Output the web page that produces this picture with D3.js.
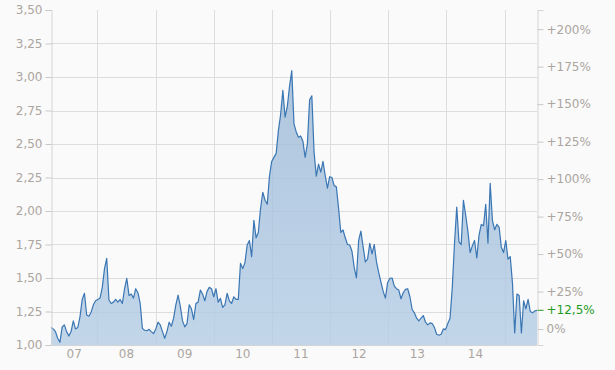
<!DOCTYPE html>
<html>
<head>
<meta charset="utf-8">
<script src="https://cdn.jsdelivr.net/npm/d3@7"></script>
<style>
  html, body { margin: 0; padding: 0; background: #fafafa; }
  svg { display: block; font-family: "DejaVu Sans", Verdana, sans-serif; }
</style>
</head>
<body>
<svg id="chart" width="615" height="370"></svg>
<script>
// price series, one value every 14 days starting mid March 2007
var startDate = new Date(2007, 2, 16),
    stepDays = 14,
    basePrice = 1.119

var prices = [1.13,1.12,1.10,1.05,1.02,1.134,1.15,1.10,1.067,1.10,
 1.18,1.12,1.13,1.21,1.34,1.386,1.224,1.215,1.245,1.30,
 1.33,1.34,1.35,1.43,1.57,1.647,1.336,1.31,1.32,1.34,
 1.32,1.34,1.31,1.42,1.498,1.37,1.38,1.35,1.42,1.39,
 1.31,1.124,1.11,1.107,1.117,1.10,1.085,1.12,1.17,1.15,
 1.10,1.05,1.10,1.17,1.14,1.20,1.30,1.373,1.29,1.18,
 1.135,1.16,1.30,1.27,1.19,1.31,1.32,1.41,1.38,1.33,
 1.40,1.43,1.42,1.36,1.42,1.32,1.348,1.28,1.30,1.386,
 1.33,1.31,1.36,1.34,1.34,1.61,1.57,1.615,1.746,1.78,
 1.66,1.93,1.80,1.84,2.02,2.14,2.08,2.05,2.26,2.37,
 2.40,2.43,2.60,2.72,2.90,2.70,2.78,2.93,3.047,2.65,
 2.59,2.55,2.56,2.52,2.40,2.50,2.83,2.86,2.44,2.26,
 2.35,2.29,2.37,2.265,2.17,2.256,2.25,2.19,2.18,2.02,
 1.84,1.858,1.80,1.75,1.746,1.70,1.58,1.50,1.78,1.85,
 1.734,1.62,1.64,1.759,1.68,1.75,1.62,1.54,1.47,1.40,
 1.35,1.465,1.498,1.50,1.44,1.42,1.41,1.345,1.39,1.415,
 1.42,1.36,1.265,1.24,1.20,1.18,1.20,1.22,1.17,1.15,
 1.165,1.16,1.13,1.08,1.073,1.08,1.12,1.115,1.16,1.20,
 1.43,1.76,2.03,1.77,1.75,2.08,1.97,1.85,1.69,1.74,
 1.78,1.65,1.82,1.90,1.89,2.05,1.76,2.207,1.93,1.86,
 1.90,1.88,1.73,1.69,1.78,1.64,1.66,1.46,1.09,1.38,
 1.37,1.09,1.33,1.27,1.34,1.25,1.24,1.255,1.259]

var priceTicks = [1.00,1.25,1.50,1.75,2.00,2.25,2.50,2.75,3.00,3.25,3.50]
var pctTicks = [0,25,50,75,100,125,150,175,200]

var margin = { top: 10, right: 78, bottom: 25, left: 51 },
    width = 615 - margin.left - margin.right,
    height = 370 - margin.top - margin.bottom

var deLocale = d3.formatLocale({ decimal: ",", thousands: ".", grouping: [3], currency: ["", "€"] })
var fmtPrice = deLocale.format(".2f")
var fmtPct = function(p) { return (p > 0 ? "+" : "") + deLocale.format(",.3~r")(p) + "%" }

var data = prices.map(function(v, i) {
    return { date: d3.timeDay.offset(startDate, i * stepDays), value: v }
})

var x = d3.scaleTime()
    .domain(d3.extent(data, d => d.date))
    .range([0, width])
var y = d3.scaleLinear()
    .domain([1, 3.5])
    .range([height, 0])

var svg = d3.select('#chart')
var g = svg.append('g')
    .attr('transform', 'translate(' + margin.left + ',' + margin.top + ')')

var defs = svg.append('defs')
var grad = defs.append('linearGradient')
    .attr('id', 'fillGrad')
    .attr('gradientUnits', 'userSpaceOnUse')
    .attr('x1', 0).attr('x2', 0)
    .attr('y1', 0).attr('y2', height)
grad.append('stop').attr('offset', '0%').attr('stop-color', '#98b6d4')
grad.append('stop').attr('offset', '100%').attr('stop-color', '#b6cee6')

// grid
var years = d3.timeYear.range(d3.timeYear.ceil(x.domain()[0]), x.domain()[1])
g.append('g').selectAll('line.vgrid')
    .data(years).enter().append('line')
    .attr('x1', d => Math.round(x(d)) + 0.5).attr('x2', d => Math.round(x(d)) + 0.5)
    .attr('y1', 0).attr('y2', height)
    .style('stroke', '#dddddd')
g.append('g').selectAll('line.hgrid')
    .data(priceTicks.filter(d => d > 1 && d < 3.5)).enter().append('line')
    .attr('x1', 0).attr('x2', width)
    .attr('y1', d => Math.round(y(d)) + 0.5).attr('y2', d => Math.round(y(d)) + 0.5)
    .style('stroke', '#dddddd')

// area + line
g.append('path')
    .datum(data)
    .attr('d', d3.area().x(d => x(d.date)).y0(height).y1(d => y(d.value)))
    .style('fill', 'url(#fillGrad)')
    .style('fill-opacity', 0.82)
g.append('path')
    .datum(data)
    .attr('d', d3.line().x(d => x(d.date)).y(d => y(d.value)))
    .style('fill', 'none')
    .style('stroke', '#3a76b3')
    .style('stroke-width', 1.2)
    .style('stroke-linejoin', 'round')

// left axis
var yAxis = d3.axisLeft(y).tickValues(priceTicks).tickSize(6).tickPadding(3).tickFormat(fmtPrice)
var yAxisG = g.append('g').attr('class', 'axis').attr('transform', 'translate(0.5,0)').call(yAxis)

// right axis (percent change vs base)
var yPct = d3.scaleLinear()
    .domain([(1 / basePrice - 1) * 100, (3.5 / basePrice - 1) * 100])
    .range([height, 0])
var yAxisR = d3.axisRight(yPct).tickValues(pctTicks).tickSize(6).tickPadding(3).tickFormat(fmtPct)
var yAxisRG = g.append('g').attr('class', 'axis').attr('transform', 'translate(' + (width + 0.5) + ',0)').call(yAxisR)

// bottom axis line
g.append('line')
    .attr('x1', 0).attr('x2', width)
    .attr('y1', height + 0.5).attr('y2', height + 0.5)
    .style('stroke', '#d4d4d4')

svg.selectAll('.axis path.domain').style('stroke', '#d4d4d4')
svg.selectAll('.axis .tick line').style('stroke', '#c8c8c8')
svg.selectAll('.axis text').style('fill', '#aba59f').style('font-size', '12px')
    .style('font-family', '"DejaVu Sans", Verdana, sans-serif')

// current change marker
var last = data[data.length - 1]
var lastPct = (last.value / basePrice - 1) * 100
var cur = g.append('g').attr('transform', 'translate(' + (width + 0.5) + ',' + y(last.value) + ')')
cur.append('line').attr('x1', 0).attr('x2', 6).style('stroke', '#1f9a1f')
cur.append('text')
    .attr('x', 9).attr('dy', '0.32em')
    .style('fill', '#1f9a1f').style('font-size', '12px')
    .text(fmtPct(lastPct))

// year labels, centred on the visible part of each year
var yearLabels = d3.timeYear.range(d3.timeYear.floor(x.domain()[0]), x.domain()[1])
    .map(function(d) {
        var a = Math.max(x(d), 0), b = Math.min(x(d3.timeYear.offset(d, 1)), width)
        return { date: d, x: (a + b) / 2, w: b - a }
    })
    .filter(d => d.w > 40)
g.append('g').selectAll('text')
    .data(yearLabels).enter().append('text')
    .attr('x', d => d.x)
    .attr('y', height + 13)
    .attr('text-anchor', 'middle')
    .style('fill', '#aba59f').style('font-size', '12px')
    .text(d => d3.timeFormat('%y')(d.date))
</script>
</body>
</html>
